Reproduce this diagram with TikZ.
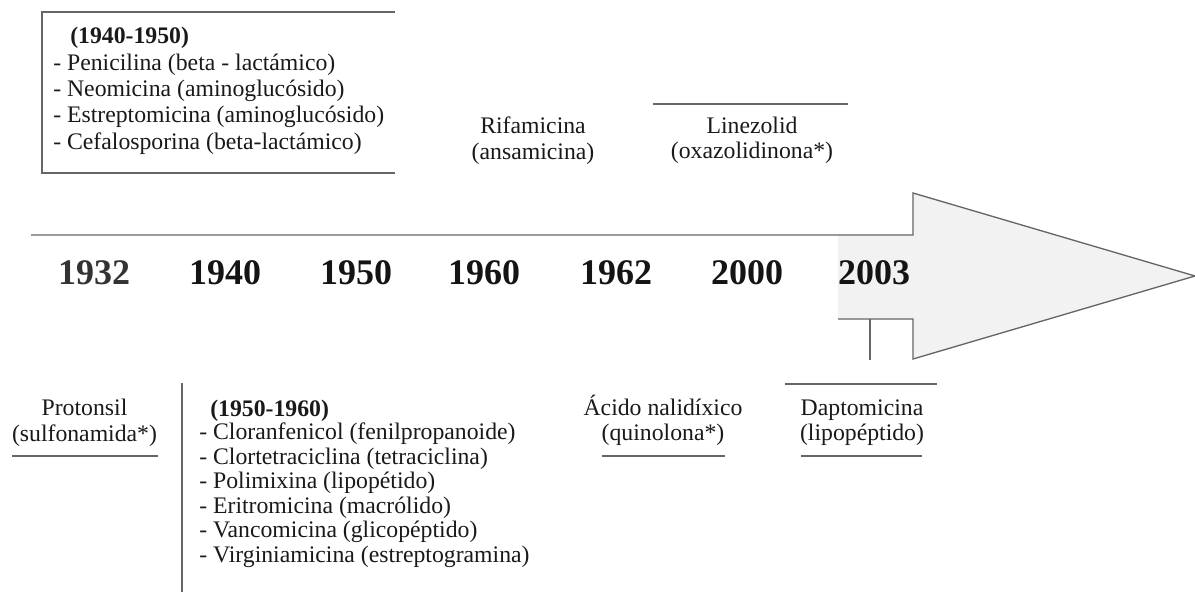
\documentclass[tikz,border=0pt]{standalone}
\usepackage{fontspec}
\setmainfont{Liberation Serif}

\tikzset{
	rule/.style={line width=1pt, color=black!60},
	txt/.style={inner sep=0pt, text=black!90, font=\fontsize{17.8}{19.1}\selectfont},
	toptxt/.style={inner sep=0pt, text=black!90, font=\fontsize{17.8}{19.8}\selectfont},
	lowtxt/.style={inner sep=0pt, text=black!90, font=\fontsize{17.8}{18.4}\selectfont},
	year/.style={inner sep=0pt, text=black!92, font=\fontsize{27}{30}\selectfont\bfseries},
}

\begin{document}
\begin{tikzpicture}[x=0.75pt, y=-0.75pt]
			%%%%% START %%%%%
			\useasboundingbox (0, 0) rectangle (1195, 592);
			
			% big arrow
			\fill[black!5] (838, 235) -- (913, 235) -- (913, 193) -- (1195, 276) -- (913, 359) -- (913, 319) -- (838, 319) -- cycle;
			\draw[rule] (31, 235) -- (913, 235) -- (913, 193) -- (1195, 276) -- (913, 359) -- (913, 319) -- (838, 319);
			\draw[rule] (870, 319) -- (870, 360);
			
			% years
			\node[year, text=black!80] (y1932) at (94, 272.5) {1932};
			\node[year] (y1940) at (225, 272.5) {1940};
			\node[year] (y1950) at (356, 272.5) {1950};
			\node[year] (y1960) at (484, 272.5) {1960};
			\node[year] (y1962) at (616, 272.5) {1962};
			\node[year] (y2000) at (747, 272.5) {2000};
			\node[year] (y2003) at (874, 272.5) {2003};
			
			% 1940-1950 box
			\draw[rule] (395, 12) -- (42, 12) -- (42, 173) -- (395, 173);
			\node[toptxt, anchor=west, font=\fontsize{17.8}{19.8}\selectfont\bfseries] (head40) at (70, 37.5) {(1940-1950)};
			\node[toptxt, anchor=north west, align=left] (list40) at (53, 53.4) {- Penicilina (beta - lactámico)\\- Neomicina (aminoglucósido)\\- Estreptomicina (aminoglucósido)\\- Cefalosporina (beta-lactámico)};
			
			% above the line
			\node[txt, align=center] (rifa) at (533, 140.5) {Rifamicina\\(ansamicina)};
			\draw[rule] (653, 104) -- (848, 104);
			\node[txt, align=center] (line) at (752, 140.5) {Linezolid\\(oxazolidinona*)};
			
			% below the line
			\node[txt, align=center] (prot) at (84.5, 423) {Protonsil\\(sulfonamida*)};
			\draw[rule] (12, 456) -- (158, 456);
			
			\draw[rule] (182, 383) -- (182, 592);
			\node[lowtxt, anchor=west, font=\fontsize{17.8}{18.4}\selectfont\bfseries] (head50) at (210, 410.5) {(1950-1960)};
			\node[lowtxt, anchor=north west, align=left] (list50) at (199, 422.6) {- Cloranfenicol (fenilpropanoide)\\- Clortetraciclina (tetraciclina)\\- Polimixina (lipopétido)\\- Eritromicina (macrólido)\\- Vancomicina (glicopéptido)\\- Virginiamicina (estreptogramina)};
			
			\node[txt, align=center] (nali) at (663, 420.5) {Ácido nalidíxico\\(quinolona*)};
			\draw[rule] (602, 456) -- (725, 456);
			
			\draw[rule] (785, 384) -- (937, 384);
			\node[txt, align=center] (dapt) at (862, 422.5) {Daptomicina\\(lipopéptido)};
			\draw[rule] (801, 456) -- (922, 456);
			
			%%%%% END %%%%%
		\end{tikzpicture}
\end{document}
